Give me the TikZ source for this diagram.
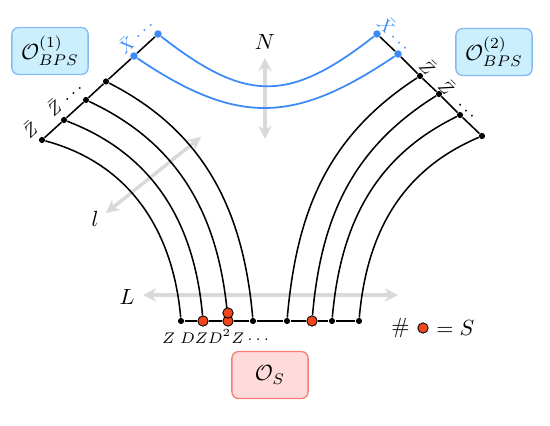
\documentclass[tikz,border=0pt]{standalone}
\usepackage{amsmath}
\usepackage{tikz}
\usepackage{xcolor}
\usetikzlibrary{
  arrows.meta, calc, positioning, backgrounds
}
\definecolor{xblue}{HTML}{3D8AF7}
\definecolor{bpsfill}{HTML}{CBEFFD}
\definecolor{bpsedge}{HTML}{86B9F5}
\definecolor{sfill}{HTML}{FFDADA}
\definecolor{sedge}{HTML}{F57F75}
\definecolor{dred}{HTML}{F2451C}
\definecolor{axisgray}{HTML}{D9D9D9}
\tikzset{
  % Operator boxes
  opbox/.style={
    draw=#1edge, fill=#1fill, rounded corners=3pt,
    minimum width=1.22cm, minimum height=0.75cm,
    inner sep=2pt, line width=0.6pt,
  },
  % Boundary dots
  zdot/.style={circle, fill=black, inner sep=0pt, minimum size=2.8pt},
  xdot/.style={circle, fill=xblue, inner sep=0pt, minimum size=3.4pt},
  ddot/.style={circle, draw=black, fill=dred, inner sep=0pt,
               minimum size=4.7pt, line width=0.4pt},
  % Lines
  zline/.style={line width=0.7pt, black},
  xline/.style={line width=0.8pt, xblue},
  axis/.style={{Stealth[length=6pt, width=6pt]}-{Stealth[length=6pt, width=6pt]},
               line width=1.6pt, axisgray},
  % Labels
  zlab/.style={font=\footnotesize, inner sep=0pt},
  xlab/.style={font=\footnotesize, inner sep=0pt, text=xblue},
  wlab/.style={font=\scriptsize, inner sep=0pt, anchor=base},
}

\begin{document}
\begin{tikzpicture}[x=0.016cm, y=0.016cm]
  \useasboundingbox (0,0) rectangle (550,425);

  % operator boxes
  \node[opbox=bps] (bps1) at (50,374) {$\mathcal{O}^{(1)}_{BPS}$};
  \node[opbox=bps] (bps2) at (494,373) {$\mathcal{O}^{(2)}_{BPS}$};
  \node[opbox=s] (os) at (270,50) {$\mathcal{O}_S$};

  % left boundary
  \node[zdot] (l1) at (42,285) {};
  \node[zdot] (l2) at (64,305) {};
  \node[zdot] (l3) at (86,325) {};
  \node[zdot] (l4) at (106,343.5) {};
  \node[xdot] (lx1) at (134,369) {};
  \node[xdot] (lx2) at (158,391) {};

  % right boundary
  \node[xdot] (rx1) at (377,391) {};
  \node[xdot] (rx2) at (398,371) {};
  \node[zdot] (r1) at (420,349) {};
  \node[zdot] (r2) at (439,331) {};
  \node[zdot] (r3) at (460,310) {};
  \node[zdot] (r4) at (482,289) {};

  % bottom boundary
  \node[zdot] (b1) at (181,104) {};
  \node[ddot] (b2) at (203,104) {};
  \node[ddot] (b3) at (228,104) {};
  \node[ddot] (b3s) at (228,112) {};
  \node[zdot] (b4) at (253,104) {};
  \node[zdot] (b5) at (287,104) {};
  \node[ddot] (b6) at (312,104) {};
  \node[zdot] (b7) at (332,104) {};
  \node[zdot] (b8) at (359,104) {};

  % letters along the boundaries
  \node[zlab, rotate=42] (zl1) at ($(l1)+(-12,11)$) {$\bar{Z}$};
  \node[zlab, rotate=42] (zl2) at ($(l2)+(-10,13)$) {$\bar{Z}$};
  \node[zlab, rotate=42] (zl3) at ($(l3)+(-11,7)$) {$\cdots$};
  \node[xlab, rotate=42] (xl1) at ($(lx1)+(-8,11)$) {$\bar{X}$};
  \node[xlab, rotate=42] (xl2) at ($(lx2)+(-12,4)$) {$\cdots$};
  \node[xlab, rotate=-44] (xr1) at ($(rx1)+(10,9)$) {$\bar{X}$};
  \node[xlab, rotate=-44] (xr2) at ($(rx2)+(2,10)$) {$\cdots$};
  \node[zlab, rotate=-44] (zr1) at ($(r1)+(8,9)$) {$\bar{Z}$};
  \node[zlab, rotate=-44] (zr2) at ($(r2)+(8,7)$) {$\bar{Z}$};
  \node[zlab, rotate=-44] (zr3) at ($(r3)+(7,3)$) {$\cdots$};

  \node[wlab] (word) at (217,82) {$Z\;DZD^2Z\cdots$};

  % axes
  \coordinate (ntop) at (265,367);
  \coordinate (nbot) at (265,286);
  \node (nlab) at (265,383) {$N$};
  \coordinate (bigl) at (143,130);
  \coordinate (bigr) at (398,130);
  \node (biglab) at (127,128) {$L$};
  \coordinate (smalla) at (106,212);
  \coordinate (smallb) at (201,288);
  \node (smalllab) at (95,206) {$l$};

  % legend
  \node[ddot] (key) at (423,97) {};
  \node[left=0pt of key] (keyhash) {$\#$};
  \node[right=0pt of key] (keyeq) {$=S$};

  \begin{scope}[on background layer]
    \draw[axis] (nbot) -- (ntop);
    \draw[axis] (bigl) -- (bigr);
    \draw[axis] (smalla) -- (smallb);

    \draw[zline] (l1) -- (l2) -- (l3) -- (l4) -- (lx1) -- (lx2);
    \draw[zline] (rx1) -- (rx2) -- (r1) -- (r2) -- (r3) -- (r4);
    \draw[zline] (b1) -- (b2) -- (b3) -- (b4) -- (b5) -- (b6) -- (b7) -- (b8);

    \draw[zline] (l1) to[out=-15, in=95] (b1);
    \draw[zline] (l2) to[out=-21, in=95] (b2);
    \draw[zline] (l3) to[out=-25, in=95] (b3);
    \draw[zline] (l4) to[out=-27, in=95] (b4);
    \draw[zline] (r1) to[out=213, in=85] (b5);
    \draw[zline] (r2) to[out=212, in=85] (b6);
    \draw[zline] (r3) to[out=206, in=85] (b7);
    \draw[zline] (r4) to[out=203, in=85] (b8);

    \draw[xline] (lx1) to[out=-34, in=214, looseness=1.2] (rx2);
    \draw[xline] (lx2) to[out=-38, in=218, looseness=1.3] (rx1);
  \end{scope}
\end{tikzpicture}
\end{document}
